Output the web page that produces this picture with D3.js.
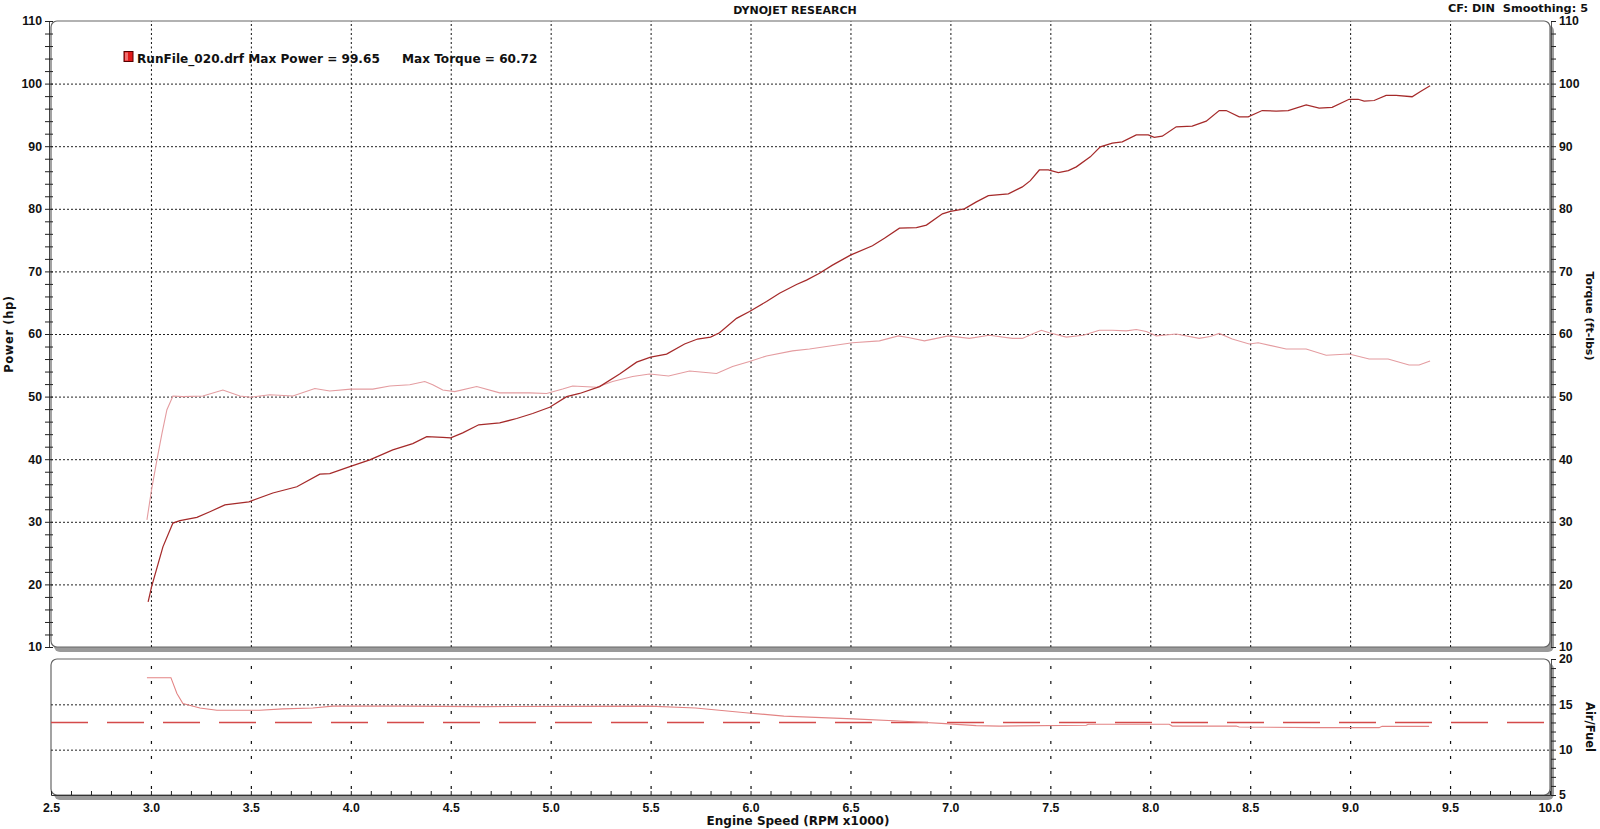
<!DOCTYPE html>
<html>
<head>
<meta charset="utf-8">
<script src="https://cdn.jsdelivr.net/npm/d3@7"></script>
<style>
  html, body { margin: 0; padding: 0; background: #fff; }
  svg { display: block; font-family: "DejaVu Sans", Verdana, sans-serif; }
  .lbl { font-weight: bold; font-size: 12.3px; fill: #111; }
</style>
</head>
<body>
<svg id="chart" width="1600" height="829"></svg>
<script>
// ---------- DATA ----------
const xTicks = [2.5, 3.0, 3.5, 4.0, 4.5, 5.0, 5.5, 6.0, 6.5, 7.0, 7.5, 8.0, 8.5, 9.0, 9.5, 10.0];
const leftTicks = [10, 20, 30, 40, 50, 60, 70, 80, 90, 100, 110];
const afrTicks = [5, 10, 15, 20];

const powerRpm = [2.986, 3.003, 3.06, 3.11, 3.145, 3.23, 3.295, 3.37, 3.49, 3.61, 3.73, 3.845, 3.895, 3.995, 4.095, 4.21, 4.31, 4.38, 4.46, 4.5, 4.56, 4.64, 4.745, 4.83, 4.91, 4.995, 5.08, 5.145, 5.245, 5.345, 5.43, 5.5, 5.58, 5.67, 5.735, 5.80, 5.845, 5.93, 5.995, 6.08, 6.145, 6.23, 6.28, 6.345, 6.41, 6.50, 6.61, 6.67, 6.745, 6.83, 6.88, 6.96, 7.0, 7.07, 7.13, 7.19, 7.29, 7.36, 7.40, 7.445, 7.49, 7.54, 7.59, 7.63, 7.70, 7.75, 7.81, 7.86, 7.93, 7.99, 8.02, 8.06, 8.13, 8.21, 8.28, 8.345, 8.38, 8.445, 8.49, 8.56, 8.63, 8.69, 8.78, 8.845, 8.91, 8.995, 9.04, 9.07, 9.12, 9.18, 9.23, 9.31, 9.35, 9.40];
const powerHp = [17.2, 19.6, 26.0, 29.8, 30.2, 30.7, 31.6, 32.7, 33.2, 34.6, 35.6, 37.6, 37.7, 38.8, 39.9, 41.5, 42.5, 43.6, 43.5, 43.4, 44.2, 45.5, 45.8, 46.5, 47.3, 48.3, 50.0, 50.5, 51.6, 53.6, 55.5, 56.3, 56.8, 58.4, 59.2, 59.5, 60.2, 62.5, 63.6, 65.2, 66.5, 67.9, 68.6, 69.7, 71.0, 72.6, 74.1, 75.3, 76.9, 77.0, 77.4, 79.2, 79.6, 80.0, 81.1, 82.1, 82.4, 83.5, 84.5, 86.2, 86.2, 85.8, 86.1, 86.7, 88.3, 89.9, 90.5, 90.7, 91.8, 91.8, 91.4, 91.6, 93.1, 93.2, 94.0, 95.7, 95.7, 94.7, 94.7, 95.7, 95.6, 95.7, 96.6, 96.1, 96.2, 97.5, 97.5, 97.2, 97.3, 98.1, 98.1, 97.9, 98.7, 99.65];

const torqueRpm = [2.98, 3.003, 3.03, 3.055, 3.08, 3.11, 3.16, 3.26, 3.36, 3.445, 3.50, 3.595, 3.71, 3.82, 3.895, 4.0, 4.11, 4.195, 4.295, 4.37, 4.41, 4.46, 4.52, 4.63, 4.745, 4.895, 4.98, 5.06, 5.11, 5.23, 5.31, 5.41, 5.495, 5.59, 5.695, 5.83, 5.91, 5.995, 6.08, 6.21, 6.295, 6.38, 6.51, 6.645, 6.74, 6.795, 6.87, 6.93, 6.99, 7.095, 7.195, 7.31, 7.36, 7.41, 7.455, 7.495, 7.58, 7.665, 7.745, 7.81, 7.88, 7.93, 7.98, 8.03, 8.13, 8.245, 8.30, 8.345, 8.41, 8.495, 8.54, 8.68, 8.78, 8.88, 8.995, 9.095, 9.19, 9.295, 9.345, 9.40];
const torqueFtLbs = [30.3, 35.1, 39.9, 44.1, 47.9, 50.1, 50.0, 50.1, 51.05, 50.1, 49.9, 50.3, 50.1, 51.3, 50.9, 51.2, 51.2, 51.7, 51.9, 52.4, 51.9, 51.05, 50.8, 51.6, 50.6, 50.6, 50.5, 51.2, 51.7, 51.5, 52.4, 53.2, 53.6, 53.3, 54.1, 53.7, 54.8, 55.6, 56.5, 57.3, 57.6, 58.0, 58.6, 58.9, 59.7, 59.4, 58.9, 59.3, 59.7, 59.3, 59.8, 59.3, 59.3, 60.0, 60.6, 60.2, 59.5, 59.8, 60.6, 60.6, 60.5, 60.72, 60.4, 59.7, 60.0, 59.3, 59.6, 60.1, 59.2, 58.4, 58.6, 57.6, 57.6, 56.6, 56.8, 56.0, 56.0, 55.05, 55.05, 55.7];

const afrRpm = [2.98, 3.10, 3.13, 3.16, 3.245, 3.33, 3.545, 3.66, 3.81, 3.91, 4.08, 4.245, 4.667, 5.494, 5.725, 5.975, 6.167, 6.513, 6.744, 6.975, 7.129, 7.244, 7.68, 7.69, 8.095, 8.11, 8.43, 8.445, 8.83, 9.145, 9.16, 9.395];
const afrValues = [17.94, 17.94, 16.2, 15.08, 14.6, 14.34, 14.34, 14.5, 14.6, 14.8, 14.8, 14.8, 14.75, 14.8, 14.6, 14.08, 13.7, 13.4, 13.16, 12.87, 12.65, 12.6, 12.7, 12.8, 12.8, 12.6, 12.6, 12.5, 12.43, 12.43, 12.57, 12.57];
const afrTarget = 13.0;

const legendText1 = "RunFile_020.drf Max Power = 99.65";
const legendText2 = "Max Torque = 60.72";

// ---------- LAYOUT ----------
const svg = d3.select("#chart");
const L = 51, R = 1550;
const topT = 21, topB = 647;
const botT = 659, botB = 795;

const x = d3.scaleLinear().domain([2.5, 10]).range([L, R]);
const y = d3.scaleLinear().domain([10, 110]).range([topB, topT]);
const yA = d3.scaleLinear().domain([5, 20]).range([botB, botT]);

function panel(t, b) {
  svg.append("rect").attr("x", L + 3).attr("y", t + 4).attr("width", R - L + 1).attr("height", b - t + 1)
    .attr("rx", 6).attr("fill", "#9a9a9a");
  svg.append("rect").attr("x", L).attr("y", t).attr("width", R - L).attr("height", b - t)
    .attr("rx", 6).attr("fill", "#fff").attr("stroke", "#666").attr("stroke-width", 1.2);
}
panel(topT, topB);
panel(botT, botB);

// ---------- GRIDS ----------
const gridX = xTicks.filter(v => v > 2.5 && v < 10);
svg.append("g").attr("transform", `translate(0,${topB})`)
  .call(d3.axisBottom(x).tickValues(gridX).tickSize(-(topB - topT)).tickFormat(""))
  .call(g => g.select(".domain").remove())
  .call(g => g.selectAll("line").attr("stroke", "#111").attr("stroke-dasharray", "2,2.5"));
svg.append("g").attr("transform", `translate(${L},0)`)
  .call(d3.axisLeft(y).tickValues(leftTicks.filter(v => v > 10 && v < 110)).tickSize(-(R - L)).tickFormat(""))
  .call(g => g.select(".domain").remove())
  .call(g => g.selectAll("line").attr("stroke", "#222").attr("stroke-dasharray", "2,2"));

svg.append("g").attr("transform", `translate(0,${botB})`)
  .call(d3.axisBottom(x).tickValues(gridX).tickSize(-(botB - botT)).tickFormat(""))
  .call(g => g.select(".domain").remove())
  .call(g => g.selectAll("line").attr("stroke", "#111").attr("stroke-width", 1.2)
     .attr("stroke-dasharray", "3,12").attr("stroke-dashoffset", -6));
svg.append("g").attr("transform", `translate(${L},0)`)
  .call(d3.axisLeft(yA).tickValues([10, 15]).tickSize(-(R - L)).tickFormat(""))
  .call(g => g.select(".domain").remove())
  .call(g => g.selectAll("line").attr("stroke", "#222").attr("stroke-dasharray", "2,2"));

// ---------- AXES ----------
svg.append("g").attr("transform", `translate(${L - 2},0)`)
  .call(d3.axisLeft(y).tickValues(d3.range(10, 111, 2)).tickSize(4).tickFormat(""))
  .call(g => g.select(".domain").attr("stroke", "#444"))
  .call(g => g.selectAll(".tick line").attr("x2", -4).attr("x1", 4).attr("stroke", "#222"));
svg.append("g").attr("transform", `translate(${L - 3},0)`)
  .call(d3.axisLeft(y).tickValues(leftTicks).tickSize(0).tickPadding(6).tickFormat(d3.format("d")))
  .call(g => g.select(".domain").remove())
  .call(g => g.selectAll("text").attr("class", "lbl"));

svg.append("g").attr("transform", `translate(${R + 1},0)`)
  .call(d3.axisRight(y).tickValues(d3.range(10, 111, 2)).tickSize(5).tickFormat(""))
  .call(g => g.select(".domain").attr("stroke", "#555").attr("stroke-width", 1))
  .call(g => g.selectAll(".tick line").attr("stroke", "#222"));
svg.append("g").attr("transform", `translate(${R + 1},0)`)
  .call(d3.axisRight(y).tickValues(leftTicks).tickSize(0).tickPadding(8).tickFormat(d3.format("d")))
  .call(g => g.select(".domain").remove())
  .call(g => g.selectAll("text").attr("class", "lbl"));

svg.append("g").attr("transform", `translate(${R + 1},0)`)
  .call(d3.axisRight(yA).tickValues(d3.range(5, 20.5, 1)).tickSize(5).tickFormat(""))
  .call(g => g.select(".domain").attr("stroke", "#555"))
  .call(g => g.selectAll(".tick line").attr("stroke", "#222"));
svg.append("g").attr("transform", `translate(${R + 1},0)`)
  .call(d3.axisRight(yA).tickValues(afrTicks).tickSize(0).tickPadding(8).tickFormat(d3.format("d")))
  .call(g => g.select(".domain").remove())
  .call(g => g.selectAll("text").attr("class", "lbl"));

svg.append("g").attr("transform", `translate(0,${botB})`)
  .call(d3.axisBottom(x).tickValues(d3.range(25, 101, 1).map(v => v / 10)).tickSize(-4).tickFormat(""))
  .call(g => g.select(".domain").attr("stroke", "#333"))
  .call(g => g.selectAll(".tick line").attr("stroke", "#222"));
svg.append("g").attr("transform", `translate(0,${botB})`)
  .call(d3.axisBottom(x).tickValues(xTicks).tickSize(0).tickPadding(8).tickFormat(d3.format(".1f")))
  .call(g => g.select(".domain").remove())
  .call(g => g.selectAll("text").attr("class", "lbl"));

// ---------- LINES ----------
const line = d3.line().x(d => x(d[0])).y(d => y(d[1]));
const lineA = d3.line().x(d => x(d[0])).y(d => yA(d[1]));

svg.append("path").datum(d3.zip(torqueRpm, torqueFtLbs))
  .attr("d", line).attr("fill", "none").attr("stroke", "#e49ca0").attr("stroke-width", 1.1);
svg.append("path").datum(d3.zip(powerRpm, powerHp))
  .attr("d", line).attr("fill", "none").attr("stroke", "#a52a2a").attr("stroke-width", 1.25);

svg.append("line")
  .attr("x1", x(2.5)).attr("x2", x(10)).attr("y1", yA(afrTarget)).attr("y2", yA(afrTarget))
  .attr("stroke", "#d44a4a").attr("stroke-width", 1.4).attr("stroke-dasharray", "37,19");
svg.append("path").datum(d3.zip(afrRpm, afrValues))
  .attr("d", lineA).attr("fill", "none").attr("stroke", "#e38484").attr("stroke-width", 1.1);

// ---------- TEXT ----------
svg.append("text").attr("x", 795).attr("y", 14).attr("text-anchor", "middle")
  .attr("font-size", 11).attr("font-weight", "bold").attr("fill", "#111").text("DYNOJET RESEARCH");
svg.append("text").attr("x", 1588).attr("y", 12).attr("text-anchor", "end")
  .attr("font-size", 11.3).attr("font-weight", "bold").attr("fill", "#111")
  .attr("xml:space", "preserve").style("white-space", "pre").text("CF: DIN  Smoothing: 5");

svg.append("text").attr("transform", "translate(13,334) rotate(-90)").attr("text-anchor", "middle")
  .attr("font-size", 11.5).attr("font-weight", "bold").attr("fill", "#111").attr("letter-spacing", 0.6).text("Power (hp)");
svg.append("text").attr("transform", "translate(1586,316) rotate(90)").attr("text-anchor", "middle")
  .attr("font-size", 11).attr("font-weight", "bold").attr("fill", "#111").text("Torque (ft-lbs)");
svg.append("text").attr("transform", "translate(1586,727) rotate(90)").attr("text-anchor", "middle")
  .attr("font-size", 11.5).attr("font-weight", "bold").attr("fill", "#111").text("Air/Fuel");
svg.append("text").attr("x", 798).attr("y", 825).attr("text-anchor", "middle")
  .attr("font-size", 12).attr("font-weight", "bold").attr("fill", "#111").text("Engine Speed (RPM x1000)");

// legend
svg.append("rect").attr("x", 124).attr("y", 51.5).attr("width", 9).attr("height", 10)
  .attr("fill", "#e01818").attr("stroke", "#500").attr("stroke-width", 1);
svg.append("rect").attr("x", 125).attr("y", 52.5).attr("width", 3).attr("height", 8).attr("fill", "#f07070");
svg.append("text").attr("x", 137).attr("y", 62.5).attr("font-size", 12.1).attr("font-weight", "bold")
  .attr("fill", "#111").text(legendText1);
svg.append("text").attr("x", 402).attr("y", 62.5).attr("font-size", 12.1).attr("font-weight", "bold")
  .attr("fill", "#111").text(legendText2);
</script>
</body>
</html>
